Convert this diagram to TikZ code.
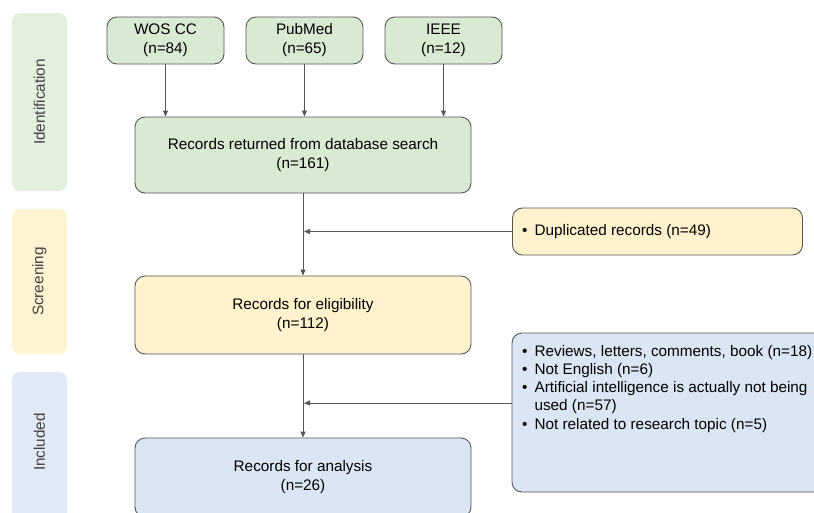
\documentclass[tikz,border=0pt]{standalone}
\usepackage{fontspec}
\setmainfont{Liberation Sans}
\usetikzlibrary{arrows.meta}
\definecolor{gfill}{HTML}{D9EAD3}
\definecolor{yfill}{HTML}{FFF2CC}
\definecolor{bfill}{HTML}{DAE6F3}
\definecolor{gside}{HTML}{E2F0DD}
\definecolor{yside}{HTML}{FFF3D1}
\definecolor{bside}{HTML}{DFEAF6}
\definecolor{edge}{HTML}{555555}
\tikzset{
  box/.style={draw=edge, line width=0.9pt, rounded corners=10pt, align=center,
    font=\fontsize{15.3}{19}\selectfont, inner sep=0pt},
  side/.style={rounded corners=8pt, minimum width=55pt, inner sep=0pt},
  sidetext/.style={rotate=90, font=\fontsize{15.3}{17}\selectfont, text=black!75},
  arr/.style={draw=edge, line width=0.9pt, -{Triangle[length=6pt,width=5pt]}},
}
\begin{document}
\begin{tikzpicture}[x=1pt,y=-1pt]
\useasboundingbox (0,0) rectangle (814,512);
\clip (0,0) rectangle (814,512);
% side labels
\node[side, fill=gside, minimum height=178pt] (sid) at (39.5,102) {};
\node[sidetext] (sidt) at (sid.center) {Identification};
\node[side, fill=yside, minimum height=145pt] (ssc) at (39.5,281.5) {};
\node[sidetext] (ssct) at (ssc.center) {Screening};
\node[side, fill=bside, minimum height=148pt] (sin) at (39.5,446) {};
\node[sidetext] (sint) at (39.5,442) {Included};
% sources
\node[box, fill=gfill, minimum width=117pt, minimum height=47pt] (wos) at (165.5,40.5) {WOS CC\\(n=84)};
\node[box, fill=gfill, minimum width=117pt, minimum height=47pt] (pub) at (304.5,40.5) {PubMed\\(n=65)};
\node[box, fill=gfill, minimum width=117pt, minimum height=47pt] (ieee) at (443.5,40.5) {IEEE\\(n=12)};
% main boxes
\node[box, fill=gfill, minimum width=336pt, minimum height=76pt] (rec) at (303,155) {Records returned from database search\\(n=161)};
\node[box, fill=yfill, minimum width=336pt, minimum height=78pt] (elig) at (303,315) {Records for eligibility\\(n=112)};
\node[box, fill=bfill, minimum width=336pt, minimum height=79pt] (ana) at (303,477.5) {Records for analysis\\(n=26)};
% exclusion boxes
\node[box, fill=yfill, minimum width=290pt, minimum height=47pt] (dup) at (657.5,231.5) {};
\node[anchor=west, font=\fontsize{15.3}{19}\selectfont, inner sep=0pt] (dupt) at (522,232) {\textbullet\hspace{7pt}Duplicated records (n=49)};
\node[box, fill=bfill, minimum width=318pt, minimum height=159pt] (exc) at (671,412.5) {};
\node[anchor=north west, font=\fontsize{15.3}{18.3}\selectfont, inner sep=0pt, align=left] (exct) at (522,343)
{\begin{tabular}{@{}l@{\hspace{7pt}}l@{}}
\textbullet & Reviews, letters, comments, book (n=18)\\
\textbullet & Not English (n=6)\\
\textbullet & Artificial intelligence is actually not being\\
 & used (n=57)\\
\textbullet & Not related to research topic (n=5)
\end{tabular}};
% connectors
\draw[arr] (wos.south) -- (wos.south |- rec.north);
\draw[arr] (pub.south) -- (pub.south |- rec.north);
\draw[arr] (ieee.south) -- (ieee.south |- rec.north);
\draw[arr] (rec.south) -- (elig.north);
\draw[arr] (elig.south) -- (ana.north);
\coordinate (j1) at (rec.south |- dup.west);
\coordinate (j2) at (elig.south |- 0,403);
\draw[arr] (dup.west) -- ([xshift=1pt]j1);
\draw[arr] (exc.west |- j2) -- ([xshift=1pt]j2);
\end{tikzpicture}
\end{document}
